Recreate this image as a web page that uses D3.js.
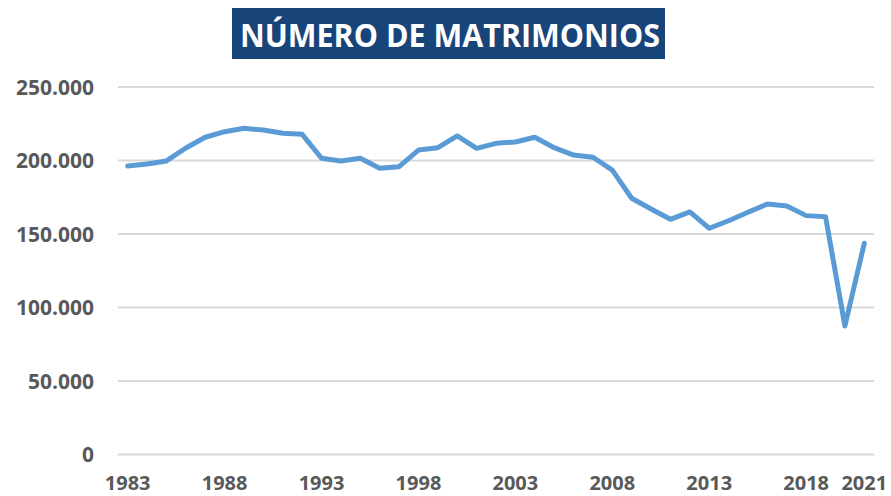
<!DOCTYPE html>
<html>
<head>
<meta charset="utf-8">
<script src="https://cdn.jsdelivr.net/npm/d3@7"></script>
<style>
  body { margin: 0; background: #fff; }
  svg { display: block; }
</style>
</head>
<body>
<div id="chart"></div>
<script>
// datos: número de matrimonios por año
const years = d3.range(1983, 2022);
const matrimonios = [
    196300, 197600, 199700, 208500, 215800, 219600, 221900, 220700, 218500, 217800,
    201500, 199700, 201500, 194700, 195800, 207100, 208700, 216700, 208300, 211700,
    212600, 215800, 208700, 203700, 202200, 193500, 174300, 167000, 160000, 165000,
    153900, 159000, 164800, 170400, 169000, 162500, 161800, 87400, 143700
];
const yTicks = [0, 50000, 100000, 150000, 200000, 250000];
const xLabels = [1983, 1988, 1993, 1998, 2003, 2008, 2013, 2018, 2021];
const titulo = 'NÚMERO DE MATRIMONIOS';

const width = 891, height = 496;
const margin = { top: 87, right: 17, bottom: 41.5, left: 118 };

const svg = d3.select('#chart')
    .append('svg')
    .attr('width', width)
    .attr('height', height);

// escalas
const x = d3.scaleBand()
    .domain(years)
    .range([margin.left, width - margin.right]);

const y = d3.scaleLinear()
    .domain([0, 250000])
    .range([height - margin.bottom, margin.top]);

const fmt = v => d3.format(',')(v).replace(/,/g, '.');

// líneas de cuadrícula
svg.append('g')
    .selectAll('line')
    .data(yTicks)
    .enter()
    .append('line')
    .attr('x1', margin.left)
    .attr('x2', width - margin.right)
    .attr('y1', d => y(d))
    .attr('y2', d => y(d))
    .attr('stroke', '#d9d9d9')
    .attr('stroke-width', 2);

// etiquetas eje Y
svg.append('g')
    .selectAll('text')
    .data(yTicks)
    .enter()
    .append('text')
    .attr('x', 94)
    .attr('y', d => y(d))
    .attr('dy', '0.36em')
    .attr('text-anchor', 'end')
    .attr('font-family', 'Open Sans, sans-serif')
    .attr('font-weight', 'bold')
    .attr('font-size', '21px')
    .attr('fill', '#595959')
    .text(d => fmt(d));

// etiquetas eje X (subidas un poco para que no se corten)
svg.append('g')
    .selectAll('text')
    .data(xLabels)
    .enter()
    .append('text')
    .attr('x', d => x(d) + x.bandwidth() / 2)
    .attr('y', 490)
    .attr('text-anchor', 'middle')
    .attr('font-family', 'Open Sans, sans-serif')
    .attr('font-weight', 'bold')
    .attr('font-size', '20px')
    .attr('fill', '#595959')
    .text(d => d);

// serie
const line = d3.line()
    .x((d, i) => x(years[i]) + x.bandwidth() / 2)
    .y(d => y(d));

svg.append('path')
    .datum(matrimonios)
    .attr('d', line)
    .attr('fill', 'none')
    .attr('stroke', '#5b9bd5')
    .attr('stroke-width', 5)
    .attr('stroke-linejoin', 'round')
    .attr('stroke-linecap', 'round');

// título
svg.append('rect')
    .attr('x', 232)
    .attr('y', 8)
    .attr('width', 433)
    .attr('height', 51)
    .attr('fill', '#17457a');

svg.append('text')
    .attr('x', 240)
    .attr('y', 47)
    .attr('textLength', 420)
    .attr('lengthAdjust', 'spacingAndGlyphs')
    .attr('font-family', 'Open Sans, sans-serif')
    .attr('font-weight', 'bold')
    .attr('font-size', '32px')
    .attr('fill', '#fff')
    .text(titulo);
</script>
</body>
</html>
